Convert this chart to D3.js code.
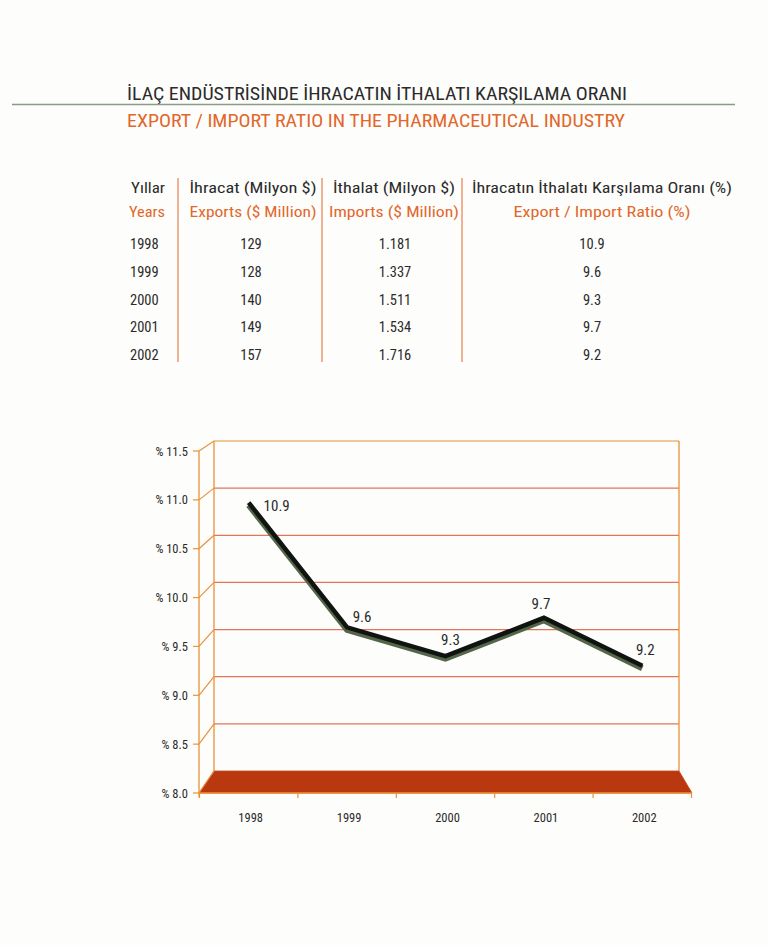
<!DOCTYPE html>
<html><head><meta charset="utf-8">
<script src="https://cdn.jsdelivr.net/npm/d3@7"></script>
<style>
body{margin:0;background:#fdfdfb;}
svg{display:block;}
text{font-family:'Liberation Sans Narrow','Roboto Condensed','Noto Sans',sans-serif;}
</style></head><body>
<script>
// ---- data ----
const years = ["1998","1999","2000","2001","2002"];
const exportsM = ["129","128","140","149","157"];
const importsM = ["1.181","1.337","1.511","1.534","1.716"];
const ratio = [10.9, 9.6, 9.3, 9.7, 9.2];
const yTicks = [8.0, 8.5, 9.0, 9.5, 10.0, 10.5, 11.0, 11.5];
const titleTR = "İLAÇ ENDÜSTRİSİNDE İHRACATIN İTHALATI KARŞILAMA ORANI";
const titleEN = "EXPORT / IMPORT RATIO IN THE PHARMACEUTICAL INDUSTRY";
const headTR = ["Yıllar","İhracat (Milyon $)","İthalat (Milyon $)","İhracatın İthalatı Karşılama Oranı (%)"];
const headEN = ["Years","Exports ($ Million)","Imports ($ Million)","Export / Import Ratio (%)"];

const W=768,H=945;
const orange="#e2672b", grid="#e2745a", frame="#e8923a", dark="#2b2b2b";
const svg=d3.select("body").append("svg").attr("width",W).attr("height",H);

// titles
svg.append("text").attr("x",127).attr("y",100).attr("font-size",17.5).attr("fill",dark)
  .attr("textLength",500).attr("lengthAdjust","spacingAndGlyphs").text(titleTR);
svg.append("line").attr("x1",12).attr("x2",735).attr("y1",104.5).attr("y2",104.5)
  .attr("stroke","#8c9a86").attr("stroke-width",1.6);
svg.append("text").attr("x",127).attr("y",127).attr("font-size",17.5).attr("fill",orange)
  .attr("textLength",498).attr("lengthAdjust","spacingAndGlyphs").text(titleEN);

// ---- table ----
const colX=[131,253,394,602];   // header anchors
const colAnchor=["start","middle","middle","middle"];
const headW=[34,127,122,260], headWE=[36,127,130,177];
headTR.forEach((h,i)=>{
  svg.append("text").attr("x",i==0?131:colX[i]).attr("y",193).attr("font-size",15.5)
    .attr("text-anchor",colAnchor[i]).attr("fill",dark)
    .attr("textLength",headW[i]).attr("lengthAdjust","spacingAndGlyphs").text(h);
  svg.append("text").attr("x",i==0?129:colX[i]).attr("y",217).attr("font-size",15.5)
    .attr("text-anchor",colAnchor[i]).attr("fill",orange)
    .attr("textLength",headWE[i]).attr("lengthAdjust","spacingAndGlyphs").text(headEN[i]);
});
const rowY=d3.scalePoint().domain(years).range([249,360]);
const valX=[130,251,395,592];
years.forEach((y,i)=>{
  const vals=[y,exportsM[i],importsM[i],ratio[i].toFixed(1)];
  vals.forEach((v,j)=>{
    svg.append("text").attr("x",valX[j]).attr("y",rowY(y)).attr("font-size",14.5)
      .attr("text-anchor",j==0?"start":"middle").attr("fill",dark).text(v);
  });
});
[178,322,462].forEach(x=>{
  svg.append("line").attr("x1",x).attr("x2",x).attr("y1",178).attr("y2",362)
    .attr("stroke",orange).attr("stroke-width",1);
});

// ---- chart ----
const yFront=d3.scaleLinear().domain([8,11.5]).range([793,451]);
const yBack=d3.scaleLinear().domain([8,11.5]).range([771,441]);
const yMid=d3.scaleLinear().domain([8,11.5]).range([782,446]);
const xFront=d3.scaleBand().domain(years).range([199.5,691.5]);
const backL=214, backR=679;

const g=svg.append("g");
// gridlines on back wall
yTicks.forEach(t=>{
  if(t>8) g.append("line").attr("x1",backL).attr("x2",backR).attr("y1",yBack(t)).attr("y2",yBack(t))
    .attr("stroke",t==11.5?frame:grid).attr("stroke-width",1.2);
});
// back wall verticals
[backL,backR].forEach(x=>g.append("line").attr("x1",x).attr("x2",x)
  .attr("y1",yBack(11.5)).attr("y2",yBack(8)).attr("stroke",frame).attr("stroke-width",1.3));
// floor
g.append("path").attr("d",d3.line()([[199,yFront(8)],[692,yFront(8)],[backR,yBack(8)],[backL,yBack(8)]])+"Z")
  .attr("fill","#b9380f").attr("stroke","#c4461a").attr("stroke-width",0.8);
// connectors (side wall) and left axis
yTicks.forEach(t=>{
  g.append("line").attr("x1",199).attr("x2",backL).attr("y1",yFront(t)).attr("y2",yBack(t))
    .attr("stroke",frame).attr("stroke-width",1.2);
  g.append("line").attr("x1",193).attr("x2",199).attr("y1",yFront(t)).attr("y2",yFront(t))
    .attr("stroke",frame).attr("stroke-width",1.2);
  g.append("text").attr("x",188).attr("y",yFront(t)+4.5).attr("text-anchor","end")
    .attr("font-size",12.5).attr("fill",dark).text("% "+t.toFixed(1));
});
g.append("line").attr("x1",199).attr("x2",199).attr("y1",yFront(11.5)).attr("y2",yFront(8)+4)
  .attr("stroke",frame).attr("stroke-width",1.3);
g.append("line").attr("x1",199).attr("x2",692).attr("y1",yFront(8)).attr("y2",yFront(8))
  .attr("stroke",frame).attr("stroke-width",1.3);
// bottom ticks
const edges=years.map(y=>xFront(y)).concat([xFront.range()[1]]);
edges.forEach(x=>g.append("line").attr("x1",x).attr("x2",x).attr("y1",yFront(8)).attr("y2",yFront(8)+5)
  .attr("stroke",frame).attr("stroke-width",1.2));
years.forEach(y=>g.append("text").attr("x",xFront(y)+xFront.bandwidth()/2+2).attr("y",822)
  .attr("text-anchor","middle").attr("font-size",12.5).attr("fill",dark).text(y));

// line
const pts=years.map((y,i)=>[xFront(y)+xFront.bandwidth()/2, yMid(ratio[i])]);
g.append("path").attr("d",d3.line()(pts.map(p=>[p[0],p[1]+1.5]))).attr("fill","none")
  .attr("stroke","#55654a").attr("stroke-width",6).attr("stroke-linejoin","miter");
g.append("path").attr("d",d3.line()(pts.map(p=>[p[0],p[1]-1]))).attr("fill","none")
  .attr("stroke","#101410").attr("stroke-width",4.5).attr("stroke-linejoin","miter");
// value labels
const lblOff=[[28,7],[15,-6],[5,-12],[-3,-10],[3,-12]];
pts.forEach((p,i)=>g.append("text").attr("x",p[0]+lblOff[i][0]).attr("y",p[1]+lblOff[i][1])
  .attr("text-anchor","middle").attr("font-size",15).attr("fill",dark).text(ratio[i].toFixed(1)));
</script>
</body></html>
